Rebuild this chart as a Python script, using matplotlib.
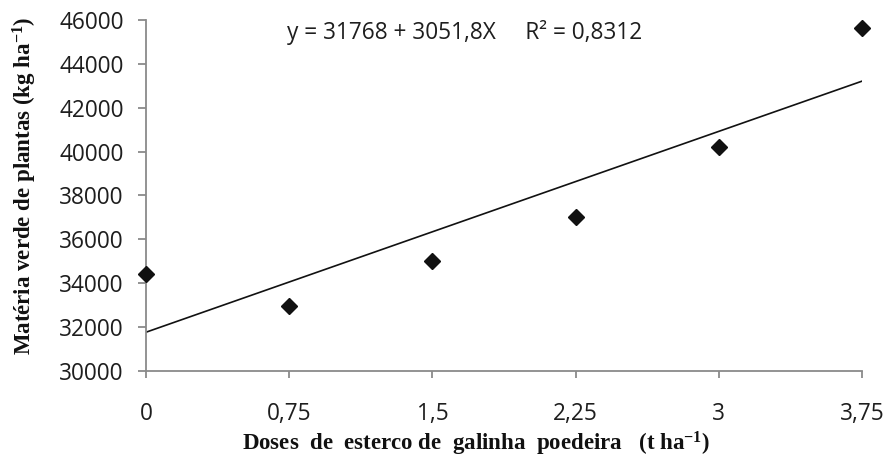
import matplotlib
matplotlib.use("Agg")
import matplotlib.pyplot as plt
import numpy as np

# Data
doses = [0, 0.75, 1.5, 2.25, 3, 3.75]
materia_verde = [34400, 32960, 35020, 37000, 40230, 45620]
intercept = 31768
slope = 3051.8
x_tick_labels = ["0", "0,75", "1,5", "2,25", "3", "3,75"]
y_ticks = [30000, 32000, 34000, 36000, 38000, 40000, 42000, 44000, 46000]

plt.rcParams['mathtext.fontset'] = 'custom'
plt.rcParams['mathtext.rm'] = 'Liberation Serif:bold'
plt.rcParams['mathtext.bf'] = 'Liberation Serif:bold'
plt.rcParams['mathtext.it'] = 'Liberation Serif:bold'

fig = plt.figure(figsize=(8.9, 4.63), dpi=100)
ax = fig.add_axes([146/890, 92/463, (862-146)/890, (371-20)/463])

xl = np.array([doses[0], doses[-1]])
ax.plot(xl, intercept + slope * xl, color='#111111', lw=1.2, zorder=2)
ax.plot(doses, materia_verde, linestyle='none', marker='D', ms=8.6,
        color='#111111', clip_on=False, zorder=3)

ax.set_xlim(0, 3.75)
ax.set_ylim(30000, 46000)
ax.set_xticks(doses)
ax.set_xticklabels(x_tick_labels)
ax.set_yticks(y_ticks)
ax.set_yticklabels([str(v) for v in y_ticks])

for s in ['top', 'right']:
    ax.spines[s].set_visible(False)
for s in ['left', 'bottom']:
    ax.spines[s].set_color('#8a8a8a')
    ax.spines[s].set_linewidth(1.3)

ax.tick_params(axis='y', direction='out', length=6, width=1.3, color='#8a8a8a', pad=10)
ax.tick_params(axis='x', direction='out', length=5, width=1.3, color='#8a8a8a', pad=17)
for lab in ax.get_xticklabels() + ax.get_yticklabels():
    lab.set_fontfamily('Open Sans')
    lab.set_fontsize(16.3)
    lab.set_color('#1e1e1e')

ax.text(0.445, 0.963, "y = 31768 + 3051,8X     R² = 0,8312",
        transform=ax.transAxes, ha='center', va='center',
        fontfamily='Open Sans', fontsize=16.3, color='#1e1e1e')

fig.text(25/890, 1 - 186/463, r"Matéria verde de plantas (kg ha$^{-1}$)",
         rotation=90, ha='center', va='center',
         fontfamily='Liberation Serif', fontweight='bold', fontsize=16.5, color='#111111')
fig.text(476/890, 1 - 444/463, r"Doses  de  esterco de  galinha  poedeira   (t ha$^{-1}$)",
         ha='center', va='center',
         fontfamily='Liberation Serif', fontweight='bold', fontsize=16.5, color='#111111')

fig.savefig("out.png", dpi=100)
